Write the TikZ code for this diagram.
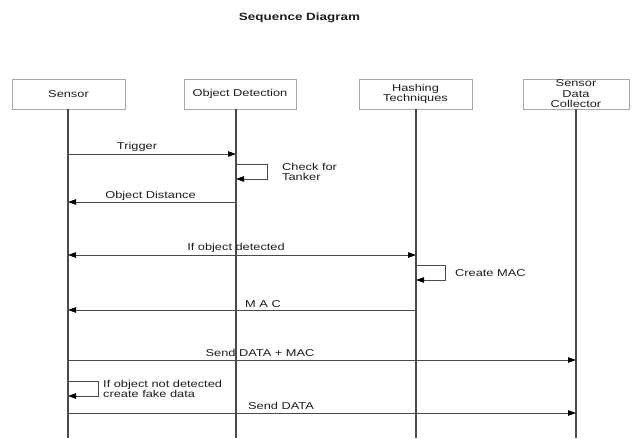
\documentclass[tikz,border=0pt]{standalone}
\usepackage{fontspec}
\newfontfamily\diagfont{Liberation Sans}[FakeStretch=1.28]
\usetikzlibrary{arrows.meta}
\definecolor{linegray}{HTML}{4A4A4A}
\definecolor{boxgray}{HTML}{A8A8A8}
\definecolor{textgray}{HTML}{1E1E1E}
\tikzset{
  tip/.tip={Triangle[length=8pt,width=5.5pt,color=black,fill=black]},
  actor/.style={draw=boxgray, line width=0.8pt, fill=white, minimum height=30pt,
    align=center, inner sep=1pt, text=textgray},
  lifeline/.style={draw=linegray, line width=1.2pt},
  msg/.style={draw=linegray, line width=0.9pt, -tip},
  msgboth/.style={draw=linegray, line width=0.9pt, tip-tip},
  lbl/.style={text=textgray, inner sep=0pt},
  note/.style={text=textgray, inner sep=0pt, align=left, anchor=west}
}
\begin{document}
\begin{tikzpicture}[x=1pt, y=-1pt, font=\diagfont\fontsize{10}{10.5}\selectfont]
\useasboundingbox[fill=white] (0,0) rectangle (633,439);

% title
\node[lbl, font=\diagfont\bfseries\fontsize{10.5}{12}\selectfont] (title) at (299.5,18) {Sequence Diagram};

% participants
\node[actor, minimum width=113pt] (sen) at (68.5,94) {Sensor};
\node[actor, minimum width=112pt] (od) at (240,94) {Object Detection};
\node[actor, minimum width=113pt] (hash) at (415.5,94) {Hashing\\Techniques};
\node[actor, minimum width=106pt] (col) at (576,94) {Sensor\\Data\\Collector};

% lifeline ends
\coordinate (senTop) at (68,109);   \coordinate (senEnd) at (68,438);
\coordinate (odTop) at (236,109);   \coordinate (odEnd) at (236,438);
\coordinate (hashTop) at (416,109); \coordinate (hashEnd) at (416,438);
\coordinate (colTop) at (576,109);  \coordinate (colEnd) at (576,438);
\draw[lifeline] (senTop) -- (senEnd);
\draw[lifeline] (odTop) -- (odEnd);
\draw[lifeline] (hashTop) -- (hashEnd);
\draw[lifeline] (colTop) -- (colEnd);

% message anchor points on the lifelines
\coordinate (s1) at (68,154);  \coordinate (o1) at (236,154);
\coordinate (o2) at (236,164); \coordinate (o3) at (236,179);
\coordinate (s2) at (68,202);  \coordinate (o4) at (236,202);
\coordinate (s3) at (68,255);  \coordinate (h1) at (416,255);
\coordinate (h2) at (416,265); \coordinate (h3) at (416,280);
\coordinate (s4) at (68,310);  \coordinate (h4) at (416,310);
\coordinate (s5) at (68,360);  \coordinate (c1) at (576,360);
\coordinate (s6) at (68,381);  \coordinate (s7) at (68,396);
\coordinate (s8) at (68,413);  \coordinate (c2) at (576,413);

% messages
\draw[msg] (s1) -- (o1);
\node[lbl] (trig) at (137,147) {Trigger};

\draw[msg] (o2) -- ++(31,0) |- (o3);
\node[note] (tank) at (282,172) {Check for\\Tanker};

\draw[msg] (o4) -- (s2);
\node[lbl] (dist) at (150.5,196) {Object Distance};

\draw[msgboth] (s3) -- (h1);
\node[lbl] (det) at (236,248) {If object detected};

\draw[msg] (h2) -- ++(29,0) |- (h3);
\node[note] (cmac) at (455,273) {Create MAC};

\draw[msg] (h4) -- (s4);
\node[lbl] (mac) at (263,304) {M A C};

\draw[msg] (s5) -- (c1);
\node[lbl] (sdm) at (260,353) {Send DATA + MAC};

\draw[msg] (s6) -- ++(30,0) |- (s7);
\node[note] (fake) at (103,389) {If object not detected\\create fake data};

\draw[msg] (s8) -- (c2);
\node[lbl] (sd) at (281,406) {Send DATA};
\end{tikzpicture}
\end{document}
